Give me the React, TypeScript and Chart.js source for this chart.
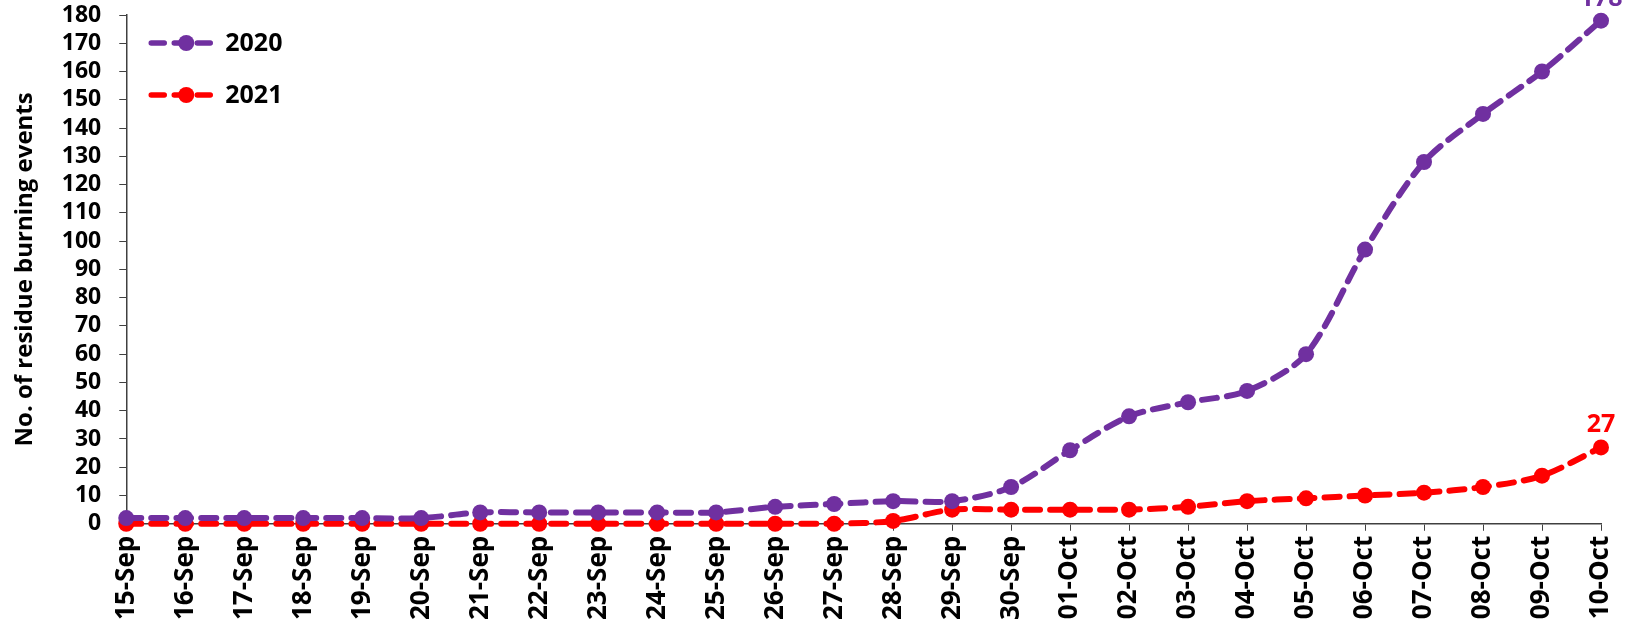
import React, { useEffect, useRef } from "react";
import { Chart, registerables } from "chart.js";

Chart.register(...registerables);

const categories = [
  "15-Sep", "16-Sep", "17-Sep", "18-Sep", "19-Sep", "20-Sep", "21-Sep", "22-Sep", "23-Sep",
  "24-Sep", "25-Sep", "26-Sep", "27-Sep", "28-Sep", "29-Sep", "30-Sep", "01-Oct", "02-Oct",
  "03-Oct", "04-Oct", "05-Oct", "06-Oct", "07-Oct", "08-Oct", "09-Oct", "10-Oct",
];
const series2020 = [2, 2, 2, 2, 2, 2, 4, 4, 4, 4, 4, 6, 7, 8, 8, 13, 26, 38, 43, 47, 60, 97, 128, 145, 160, 178];
const series2021 = [0, 0, 0, 0, 0, 0, 0, 0, 0, 0, 0, 0, 0, 1, 5, 5, 5, 5, 6, 8, 9, 10, 11, 13, 17, 27];
const seriesNames = ["2020", "2021"];
const seriesColors = ["#7030A0", "#FF0000"];
const yTitle = "No. of residue burning events";

const FONT = "'Open Sans', 'Liberation Sans', sans-serif";

const overlayPlugin = {
  id: "overlay",
  afterDatasetsDraw(chart: any) {
    const ctx = chart.ctx;
    ctx.save();
    chart.data.datasets.forEach((ds: any, i: number) => {
      const meta = chart.getDatasetMeta(i);
      const last = meta.data[meta.data.length - 1];
      if (!last) return;
      ctx.fillStyle = ds.borderColor;
      ctx.font = `bold 25px ${FONT}`;
      ctx.textAlign = "center";
      ctx.textBaseline = "alphabetic";
      ctx.fillText(String(ds.data[ds.data.length - 1]), last.x, last.y - 15);
    });
    const area = chart.chartArea;
    chart.data.datasets.forEach((ds: any, i: number) => {
      const y = area.top + 28 + i * 52;
      const x0 = area.left + 25;
      ctx.strokeStyle = ds.borderColor;
      ctx.lineWidth = 5.5;
      ctx.lineCap = "round";
      ctx.setLineDash([13, 10]);
      ctx.beginPath();
      ctx.moveTo(x0, y);
      ctx.lineTo(x0 + 65, y);
      ctx.stroke();
      ctx.setLineDash([]);
      ctx.fillStyle = ds.borderColor;
      ctx.beginPath();
      ctx.arc(x0 + 35, y, 8, 0, Math.PI * 2);
      ctx.fill();
      ctx.fillStyle = "#000";
      ctx.font = `bold 25px ${FONT}`;
      ctx.textAlign = "left";
      ctx.textBaseline = "middle";
      ctx.fillText(ds.label, x0 + 74, y + 1);
    });
    ctx.restore();
  },
};

function zeroPad(scale: any) {
  scale.paddingTop = 0;
  scale.paddingBottom = 0;
  scale.paddingLeft = 0;
  scale.paddingRight = 0;
}

export default function App() {
  const ref = useRef<HTMLCanvasElement | null>(null);
  useEffect(() => {
    document.body.style.margin = "0";
    if (!ref.current) return;
    const chart = new Chart(ref.current, {
      type: "line",
      data: {
        labels: categories,
        datasets: [series2020, series2021].map((d, i) => ({
          label: seriesNames[i],
          data: d,
          borderColor: seriesColors[i],
          backgroundColor: seriesColors[i],
          borderWidth: 6,
          borderDash: [15, 10],
          borderCapStyle: "round" as const,
          pointRadius: 8,
          pointBorderWidth: 0,
          pointBackgroundColor: seriesColors[i],
          tension: 0.3,
          clip: false as any,
        })),
      },
      options: {
        animation: false,
        responsive: false,
        maintainAspectRatio: false,
        layout: { padding: { top: 15, right: 31, bottom: 8, left: 0 } },
        plugins: { legend: { display: false }, tooltip: { enabled: false } },
        scales: {
          x: {
            offset: false,
            afterFit: zeroPad,
            grid: { drawOnChartArea: false, drawTicks: true, tickLength: 7, color: "#404040" },
            border: { color: "#404040", width: 1.5 },
            ticks: {
              autoSkip: false,
              maxRotation: 90,
              minRotation: 90,
              color: "#000",
              font: { family: FONT, size: 26, weight: "bold" },
              padding: 5,
            },
          },
          y: {
            min: 0,
            max: 180,
            afterFit: zeroPad,
            grid: { drawOnChartArea: false, drawTicks: true, tickLength: 7, color: "#404040" },
            border: { color: "#404040", width: 1.5 },
            ticks: {
              stepSize: 10,
              autoSkip: false,
              color: "#000",
              font: { family: FONT, size: 23, weight: "bold" },
              padding: 18,
            },
            title: {
              display: true,
              text: yTitle,
              color: "#000",
              font: { family: FONT, size: 24, weight: "bold" },
              padding: { top: 11, bottom: 4 },
            },
          },
        },
      },
      plugins: [overlayPlugin],
    });
    return () => chart.destroy();
  }, []);
  return (
    <div style={{ position: "fixed", left: 0, top: 0, width: 1632, height: 633, background: "#fff" }}>
      <canvas ref={ref} width={1632} height={633} style={{ width: 1632, height: 633 }} />
    </div>
  );
}
